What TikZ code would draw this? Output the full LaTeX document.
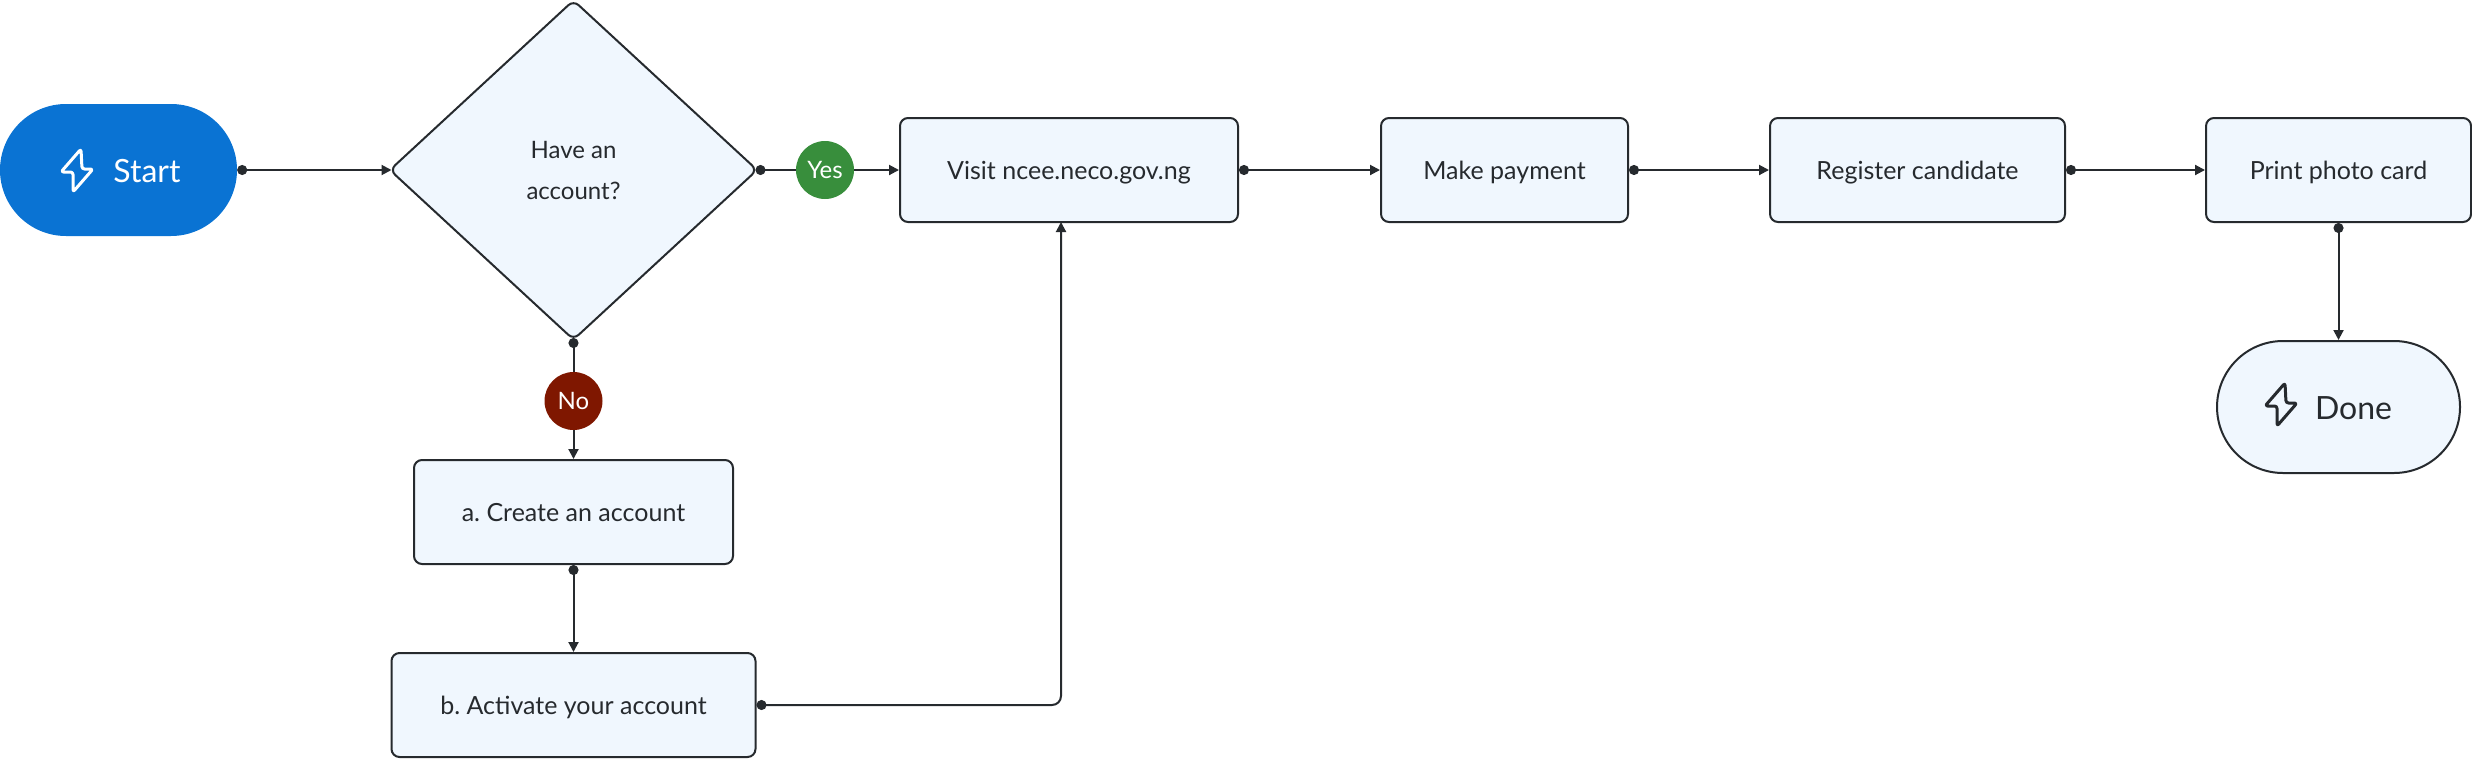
\documentclass[tikz,border=0pt]{standalone}
\usepackage{fontspec}
\setmainfont{Lato}
\usetikzlibrary{arrows.meta,shapes.geometric,shapes.misc}
\definecolor{ink}{HTML}{262A2E}
\definecolor{pale}{HTML}{F0F7FE}
\definecolor{startblue}{HTML}{0A73D3}
\definecolor{yesgreen}{HTML}{388E3C}
\definecolor{nored}{HTML}{7F1700}
\frenchspacing
\tikzset{
  x=1pt,y=-1pt,
  stepbox/.style={draw=ink,line width=2pt,fill=pale,rounded corners=8pt,inner sep=0pt,font=\fontsize{25}{41}\selectfont,text=ink,text height=24pt,text depth=5pt},
  pill/.style={rounded rectangle,rounded rectangle arc length=180,inner sep=0pt,minimum height=132pt,font=\fontsize{32}{36}\selectfont,text height=24pt,text depth=0pt},
  decide/.style={diamond,draw=ink,line width=2pt,fill=pale,rounded corners=7pt,inner sep=0pt,shape aspect=1.087,minimum width=368pt,minimum height=340pt,font=\fontsize{24}{41}\selectfont,text=ink,align=center},
  badge/.style={circle,inner sep=0pt,minimum size=58pt,text=white,font=\fontsize{24}{28}\selectfont},
  conn/.style={draw=ink,line width=2pt,{Circle[length=10pt,width=10pt]}-{Triangle[length=10pt,width=10pt]},rounded corners=9pt},
  startdot/.style={draw=ink,line width=2pt,{Circle[length=10pt,width=10pt]}-},
  endarrow/.style={draw=ink,line width=2pt,-{Triangle[length=10pt,width=10pt]}},
  bolt/.style={line width=3pt,line join=round,rounded corners=2.5pt},
}
\newcommand{\boltpath}[3]{%
  \draw[bolt,draw=#3] (#1+20,#2+0) -- (#1+0,#2+23) -- (#1+12,#2+23) -- (#1+12,#2+43) -- (#1+32,#2+20) -- (#1+21,#2+20) -- cycle;}
\begin{document}
\begin{tikzpicture}
\useasboundingbox (0,0) rectangle (2472,758);
\node[pill,fill=startblue,minimum width=237pt,text=white] (start) at (118.5,170) {\hspace*{57pt}Start};
\node[decide] (dec) at (573.5,170) {Have an\\account?};
\node[stepbox,minimum width=338pt,minimum height=104pt] (visit) at (1069,170) {Visit ncee.neco.gov.ng};
\node[stepbox,minimum width=247pt,minimum height=104pt] (pay) at (1504.5,170) {Make payment};
\node[stepbox,minimum width=295pt,minimum height=104pt] (reg) at (1917.5,170) {Register candidate};
\node[stepbox,minimum width=265pt,minimum height=104pt] (print) at (2338.5,170) {Print photo card};
\node[pill,draw=ink,line width=2pt,fill=pale,minimum width=243pt,text=ink] (done) at (2338.5,407) {\hspace*{30pt}Done};
\node[stepbox,minimum width=319pt,minimum height=104pt] (create) at (573.5,512) {a. Create an account};
\node[stepbox,minimum width=364pt,minimum height=104pt] (act) at (573.5,705) {b. Activate your account};
\node[badge,fill=yesgreen] (yes) at (825,170) {Yes};
\node[badge,fill=nored] (no) at (573.5,401) {No};
\coordinate (visitin) at (1061,222);
\draw[conn,shorten >=-3pt] (start.east) -- (dec.west);
\draw[startdot,shorten <=-3pt] (dec.east) -- (yes.west);
\draw[endarrow] (yes.east) -- (visit.west);
\draw[startdot,shorten <=-3pt] (dec.south) -- (no.north);
\draw[endarrow] (no.south) -- (create.north);
\draw[conn] (create.south) -- (act.north);
\draw[conn] (act.east) -| (visitin);
\draw[conn] (visit.east) -- (pay.west);
\draw[conn] (pay.east) -- (reg.west);
\draw[conn] (reg.east) -- (print.west);
\draw[conn] (print.south) -- (done.north);
\boltpath{61}{149}{white}
\boltpath{2265}{383}{ink}
\end{tikzpicture}
\end{document}
